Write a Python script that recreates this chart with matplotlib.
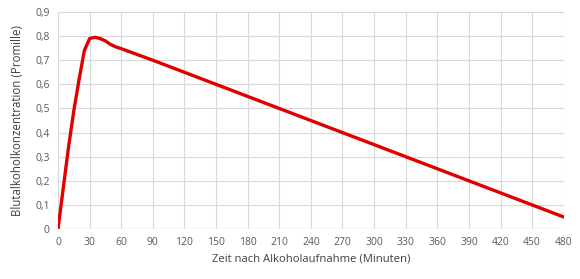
import numpy as np
import matplotlib
matplotlib.use("Agg")
from matplotlib import pyplot as plt

# minutes after intake / blood alcohol (per mille)
minutes = [0, 5, 10, 15, 20, 25, 30, 35, 40, 45, 50, 55, 60,
           90, 120, 150, 180, 210, 240, 270, 300, 330, 360, 390, 420, 450, 480]
promille = [0, 0.17, 0.34, 0.49, 0.62, 0.74, 0.79, 0.795, 0.79, 0.78, 0.765, 0.755, 0.748,
            0.70, 0.65, 0.60, 0.55, 0.50, 0.45, 0.40, 0.35, 0.30, 0.25, 0.20, 0.15, 0.10, 0.05]

x_ticks = list(range(0, 481, 30))
y_ticks = [0, 0.1, 0.2, 0.3, 0.4, 0.5, 0.6, 0.7, 0.8, 0.9]
y_labels = ["0", "0,1", "0,2", "0,3", "0,4", "0,5", "0,6", "0,7", "0,8", "0,9"]

plt.rcParams['font.family'] = ['Open Sans', 'DejaVu Sans']

fig = plt.figure(figsize=(5.8, 2.79), dpi=100)
ax = fig.add_axes([0.1, 0.179, 0.872, 0.778])

ax.plot(minutes, promille, color='#e00000', lw=2.4, solid_capstyle='round')

ax.set_xlim(0, 480)
ax.set_ylim(0, 0.9)
ax.set_xticks(x_ticks)
ax.set_yticks(y_ticks)
ax.set_yticklabels(y_labels)
ax.grid(True, color='#d9d9d9', lw=0.8)
ax.set_axisbelow(True)
for s in ax.spines.values():
    s.set_visible(False)
ax.axhline(0, color='#d9d9d9', lw=1, zorder=0)
ax.tick_params(length=0, labelsize=7.5, colors='#595959', pad=6)

ax.set_xlabel("Zeit nach Alkoholaufnahme (Minuten)", fontsize=8.1, color='#404040', labelpad=4)
ax.set_ylabel("Blutalkoholkonzentration (Promille)", fontsize=8.3, color='#404040', labelpad=8)

fig.savefig("out.png", dpi=100)
